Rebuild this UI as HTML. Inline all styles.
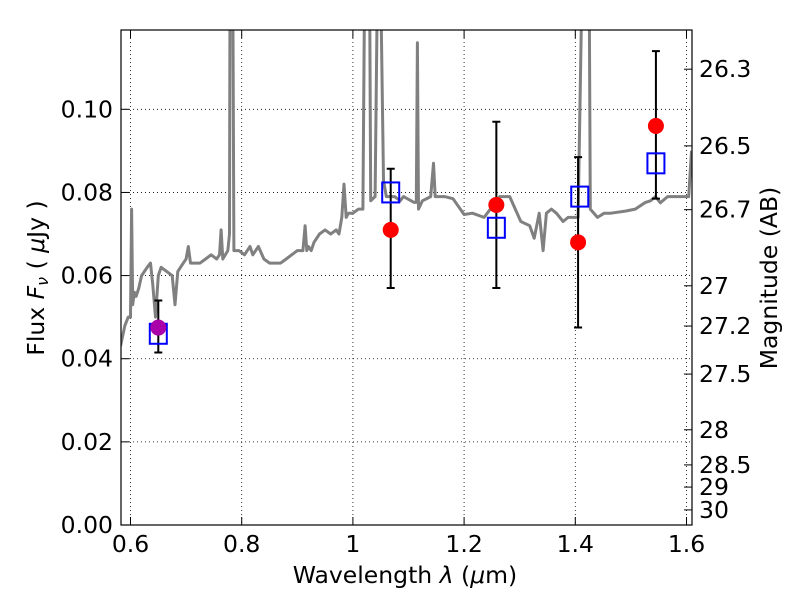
<!DOCTYPE html>
<html><head><meta charset="utf-8"><style>
body{margin:0;background:#fff;}
svg text{font-family:"DejaVu Sans","Liberation Sans",sans-serif;font-size:23.5px;fill:#000;}
</style></head><body>
<svg id="c" width="800" height="600" viewBox="0 0 800 600" xmlns="http://www.w3.org/2000/svg">
<rect width="800" height="600" fill="#fff"/>
<defs><clipPath id="clip"><rect x="121" y="30" width="571" height="495"/></clipPath></defs>
<g id="grid"></g>
<g id="spec" clip-path="url(#clip)"></g>
<g id="marks"></g>
<rect x="121" y="30" width="571" height="495" fill="none" stroke="#000" stroke-width="1.2"/>
<g id="axes"></g>
<text x="405" y="583" text-anchor="middle">Wavelength  <tspan font-style="italic">λ</tspan> (<tspan font-style="italic">μ</tspan>m)</text>
<text transform="translate(44,278) rotate(-90)" text-anchor="middle">Flux  <tspan font-style="italic">F</tspan><tspan font-style="italic" font-size="16" dy="4">ν</tspan><tspan dy="-4">  ( </tspan><tspan font-style="italic">μ</tspan>Jy )</text>
<text transform="translate(777,278) rotate(-90)" text-anchor="middle">Magnitude (AB)</text>
</svg>
<script>
const specW=[0.582,0.590,0.596,0.600,0.602,0.604,0.607,0.610,0.615,0.620,0.630,0.636,0.640,0.645,0.650,0.655,0.665,0.675,0.680,0.685,0.695,0.700,0.704,0.708,0.715,0.725,0.735,0.745,0.755,0.760,0.763,0.766,0.775,0.778,0.779,0.784,0.786,0.795,0.805,0.810,0.815,0.820,0.830,0.840,0.850,0.870,0.880,0.890,0.900,0.910,0.914,0.917,0.920,0.925,0.930,0.940,0.950,0.960,0.970,0.975,0.980,0.984,0.988,0.992,1.000,1.010,1.018,1.021,1.030,1.032,1.040,1.044,1.050,1.055,1.060,1.075,1.085,1.091,1.110,1.114,1.116,1.118,1.125,1.140,1.145,1.148,1.152,1.165,1.180,1.200,1.215,1.236,1.264,1.282,1.302,1.318,1.326,1.335,1.342,1.348,1.357,1.366,1.378,1.387,1.396,1.405,1.412,1.414,1.425,1.427,1.440,1.452,1.464,1.490,1.508,1.526,1.535,1.544,1.553,1.566,1.584,1.604,1.609];
const specF=[0.043,0.048,0.050,0.050,0.076,0.053,0.056,0.055,0.057,0.060,0.062,0.063,0.058,0.050,0.060,0.062,0.061,0.060,0.053,0.061,0.063,0.064,0.067,0.063,0.063,0.063,0.064,0.065,0.064,0.065,0.071,0.064,0.066,0.070,0.130,0.130,0.066,0.066,0.065,0.066,0.067,0.065,0.067,0.064,0.063,0.063,0.064,0.065,0.066,0.066,0.072,0.066,0.067,0.066,0.068,0.070,0.071,0.070,0.071,0.070,0.074,0.082,0.074,0.075,0.075,0.076,0.076,0.130,0.130,0.078,0.079,0.130,0.130,0.083,0.079,0.079,0.078,0.079,0.0776,0.0776,0.116,0.076,0.078,0.079,0.087,0.079,0.079,0.079,0.0785,0.0747,0.0750,0.074,0.079,0.079,0.073,0.072,0.069,0.075,0.066,0.075,0.076,0.075,0.073,0.074,0.074,0.074,0.130,0.130,0.130,0.076,0.074,0.075,0.075,0.0755,0.076,0.0776,0.078,0.079,0.0775,0.079,0.079,0.079,0.090];
const obsW=[0.650,1.068,1.258,1.405,1.545];
const obsF=[0.0475,0.0710,0.0770,0.0680,0.0960];
const errLo=[0.0415,0.0570,0.0570,0.0475,0.0785];
const errHi=[0.0540,0.0857,0.0970,0.0885,0.1140];
const modelW=[0.650,1.068,1.258,1.408,1.545];
const modelF=[0.0460,0.0800,0.0715,0.0790,0.0870];
const xTicks=[0.6,0.8,1.0,1.2,1.4,1.6];
const xTickLabels=["0.6","0.8","1","1.2","1.4","1.6"];
const yTicks=[0,0.02,0.04,0.06,0.08,0.10];
const yTickLabels=["0.00","0.02","0.04","0.06","0.08","0.10"];
const magTicks=[26.3,26.5,26.7,27,27.2,27.5,28,28.5,29,30];
const magTickLabels=["26.3","26.5","26.7","27","27.2","27.5","28","28.5","29","30"];

const NS="http://www.w3.org/2000/svg";
const X=w=>130.5+(w-0.6)*556;
const Y=f=>525-f*4157;
const magToF=m=>Math.pow(10,(23.9-m)/2.5);
function mk(tag,attrs,parent){const e=document.createElementNS(NS,tag);for(const k in attrs)e.setAttribute(k,attrs[k]);parent.appendChild(e);return e;}
const grid=document.getElementById('grid'),axes=document.getElementById('axes'),spec=document.getElementById('spec'),marks=document.getElementById('marks');

xTicks.forEach((t,i)=>{const x=X(t);
 const g=mk('line',{x1:x,x2:x,y1:30,y2:525,stroke:'#000','stroke-width':0.8,'stroke-dasharray':'1,3'},grid);
 
 
 mk('line',{x1:x,x2:x,y1:525,y2:517,stroke:'#000'},axes);
 mk('line',{x1:x,x2:x,y1:30,y2:38,stroke:'#000'},axes);
 const tx=mk('text',{x:x,y:552,'text-anchor':'middle'},axes);tx.textContent=xTickLabels[i];
 
 
});
yTicks.forEach((t,i)=>{const y=Y(t);
 if(t>0){const g=mk('line',{x1:121,x2:692,y1:y,y2:y,stroke:'#000','stroke-width':0.8,'stroke-dasharray':'1,3'},grid);
 
 }
 mk('line',{x1:121,x2:129,y1:y,y2:y,stroke:'#000'},axes);
 const tx=mk('text',{x:113,y:y+8,'text-anchor':'end'},axes);tx.textContent=yTickLabels[i];
 
 
});
magTicks.forEach((m,i)=>{const y=Y(magToF(m));
 mk('line',{x1:684,x2:692,y1:y,y2:y,stroke:'#000'},axes);
 const tx=mk('text',{x:699,y:y+8},axes);tx.textContent=magTickLabels[i];
 
 
});

const pts=specW.map((w,i)=>X(w).toFixed(1)+','+Y(specF[i]).toFixed(1)).join(' ');
const pl=mk('polyline',{points:pts,fill:'none',stroke:'#808080','stroke-width':3,'stroke-linejoin':'round'},spec);



obsW.forEach((w,i)=>{const x=X(w);
 const e=mk('path',{d:`M${x},${Y(errLo[i])}V${Y(errHi[i])}M${x-4},${Y(errLo[i])}h8M${x-4},${Y(errHi[i])}h8`,stroke:'#000','stroke-width':2,fill:'none'},marks);
 
 
});
modelW.forEach((w,i)=>{
 const r=mk('rect',{x:X(w)-8.5,y:Y(modelF[i])-10,width:17,height:20,fill:'none',stroke:'#0000ff','stroke-width':2},marks);
 
 
});
obsW.forEach((w,i)=>{
 const c=mk('circle',{cx:X(w),cy:Y(obsF[i]),r:8,fill:i===0?'#aa00aa':'#ff0000'},marks);
 
 
});
</script>
</body></html>
